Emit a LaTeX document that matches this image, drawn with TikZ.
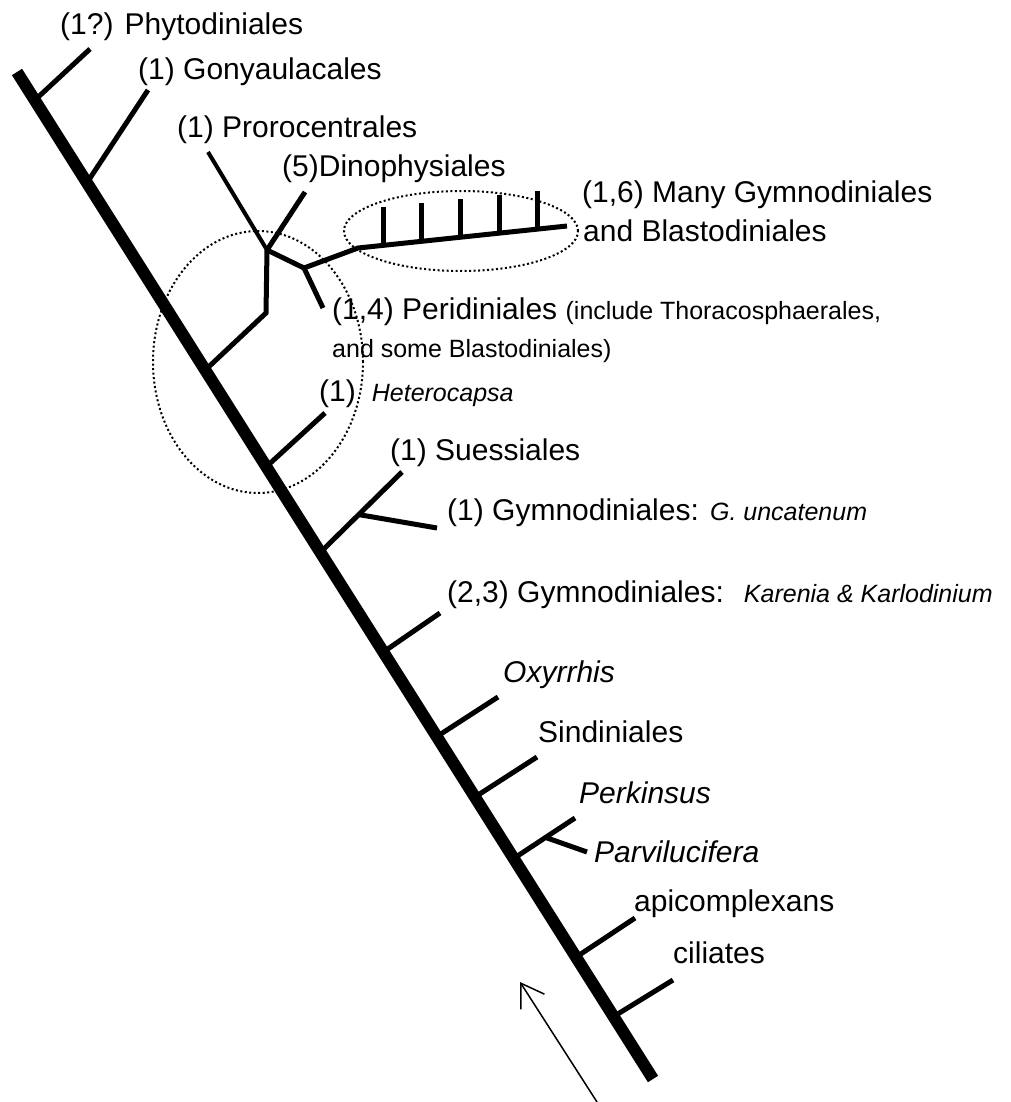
\documentclass[tikz,border=0pt]{standalone}
\usepackage{fontspec}
\setmainfont{Liberation Sans}
\usetikzlibrary{calc,arrows.meta}

\newcommand{\smalltxt}{\fontsize{25}{29}\selectfont}

\begin{document}
\begin{tikzpicture}[
    x=1pt, y=-1pt,
    trunk/.style={draw, line width=12pt},
    branch/.style={draw, line width=5pt},
    ring/.style={draw, line width=2pt, dash pattern=on 2pt off 2.5pt},
    lab/.style={anchor=base west, inner sep=0pt, font=\fontsize{30}{36}\selectfont},
    itlab/.style={lab, font=\fontsize{30}{36}\selectfont\itshape},
    sublab/.style={anchor=base west, inner sep=0pt, font=\smalltxt}
]
    \useasboundingbox (0,0) rectangle (1010,1102);

    % Trunk
    \coordinate (top) at (17,72);
    \coordinate (bot) at (653,1079);
    \draw[trunk] (top) -- (bot);

    % Branch points on the trunk
    \foreach \name/\t in {phy/0.028, gon/0.110, cla/0.296, het/0.392, sue/0.477,
                          kar/0.576, oxy/0.660, sin/0.720, per/0.781, api/0.879, cil/0.938} {
        \coordinate (j-\name) at ($(top)!\t!(bot)$);
    }

    % Branch tips
    \coordinate (t-phy) at (90,49);
    \coordinate (t-gon) at (148,90);
    \coordinate (t-het) at (325,413);
    \coordinate (t-sue) at (402,472);
    \coordinate (t-kar) at (440,613);
    \coordinate (t-oxy) at (498,697);
    \coordinate (t-sin) at (537,757);
    \coordinate (t-per) at (575,818);
    \coordinate (t-api) at (635,918);
    \coordinate (t-cil) at (673,980);

    \foreach \name in {phy, gon, het, sue, kar, oxy, sin, per, api, cil} {
        \draw[branch] (j-\name) -- (t-\name);
    }

    % Side branches
    \coordinate (s-sue) at ($(j-sue)!0.47!(t-sue)$);
    \coordinate (t-unc) at (437,528);
    \draw[branch] (s-sue) -- (t-unc);
    \coordinate (s-per) at ($(j-per)!0.52!(t-per)$);
    \coordinate (t-par) at (587,852);
    \draw[branch] (s-per) -- (t-par);

    % Dinokaryote clade
    \coordinate (c1) at (266,313);
    \coordinate (c2) at (267,250);
    \coordinate (c3) at (304,268);
    \coordinate (c4) at (358,248);
    \coordinate (t-pro) at (208,152);
    \coordinate (t-din) at (305,192);
    \coordinate (t-pdi) at (323,308);
    \coordinate (t-gym) at (567,226);
    \draw[branch] (j-cla) -- (c1) -- (c2);
    \draw[branch, line width=4pt] (t-pro) -- (c2);
    \draw[branch] (c2) -- (t-din);
    \draw[branch] (c2) -- (c3) -- (c4) -- (t-gym);
    \draw[branch] (c3) -- (t-pdi);
    \foreach \t in {0.12, 0.305, 0.49, 0.675, 0.86} {
        \draw[branch] ($(c4)!\t!(t-gym)$) -- ++(0,-38);
    }

    % Dotted rings
    \draw[ring] (258,362) ellipse [x radius=105pt, y radius=131pt];
    \draw[ring] (461,231) ellipse [x radius=117pt, y radius=40pt];

    % Arrow
    \coordinate (atail) at (597,1102);
    \coordinate (atip) at (520,982);
    \draw[line width=1.5pt, -{Straight Barb[length=22pt, width=28pt]}] (atail) -- (atip);

    % Labels
    \node[lab] (phyto) at (60,35) {(1?) Phytodiniales};
    \node[lab] (gony) at (138,80) {(1) Gonyaulacales};
    \node[lab] (proro) at (177,138) {(1) Prorocentrales};
    \node[lab] (dino) at (282,177) {(5)Dinophysiales};
    \node[lab] (gymA) at (582,203) {(1,6) Many Gymnodiniales};
    \node[lab] (gymB) at (583,241) {and Blastodiniales};
    \node[lab] (peri) at (332,319) {(1,4) Peridiniales {\smalltxt(include Thoracosphaerales,}};
    \node[sublab] (peri2) at (332,357) {and some Blastodiniales)};
    \node[lab] (hetero) at (319,401) {(1)\hspace{16pt}{\smalltxt\itshape Heterocapsa}};
    \node[lab] (suess) at (390,460) {(1) Suessiales};
    \node[lab] (uncat) at (447,520) {(1) Gymnodiniales: {\smalltxt\itshape G. uncatenum}};
    \node[lab] (karen) at (447,602) {(2,3) Gymnodiniales:\hspace{20pt}{\smalltxt\itshape Karenia \& Karlodinium}};
    \node[itlab] (oxyr) at (503,682) {Oxyrrhis};
    \node[lab] (sind) at (538,742) {Sindiniales};
    \node[itlab] (perk) at (579,803) {Perkinsus};
    \node[itlab] (parv) at (594,862) {Parvilucifera};
    \node[lab] (apic) at (634,911) {apicomplexans};
    \node[lab] (cili) at (673,963) {ciliates};

\end{tikzpicture}
\end{document}
